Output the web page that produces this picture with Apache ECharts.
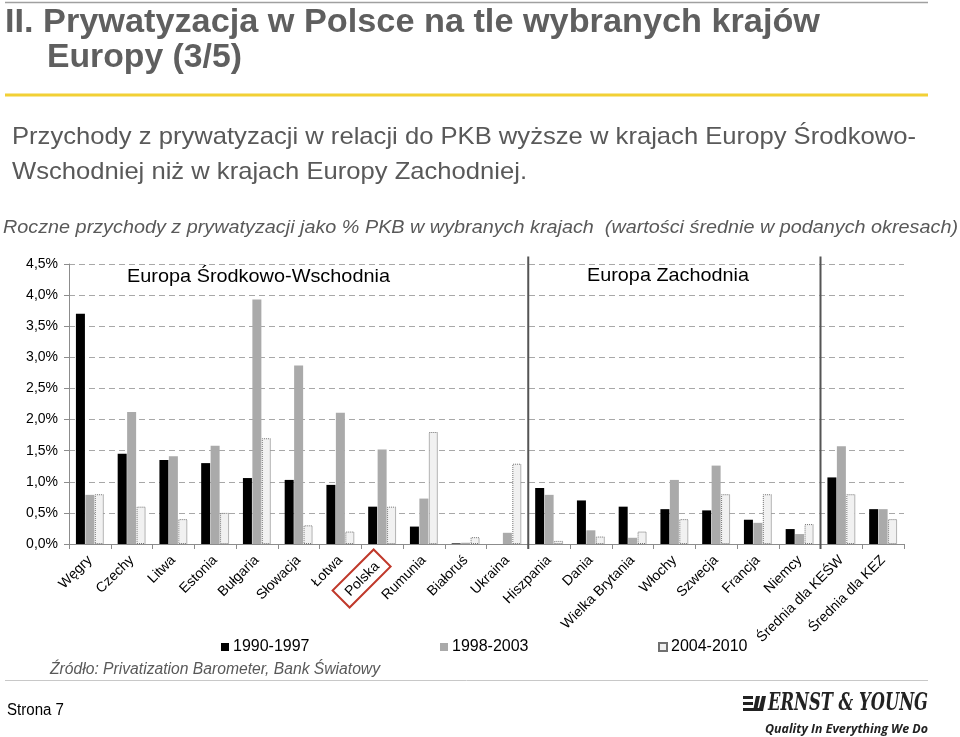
<!DOCTYPE html>
<html>
<head>
<meta charset="utf-8">
<script src="https://cdn.jsdelivr.net/npm/echarts@6/dist/echarts.min.js"></script>
<style>
html,body{margin:0;padding:0;background:#fff;}
#c{width:960px;height:737px;}
</style>
</head>
<body>
<div id="c"></div>
<script>
const categories = ['Węgry','Czechy','Litwa','Estonia','Bułgaria','Słowacja','Łotwa','Polska','Rumunia','Białoruś','Ukraina','Hiszpania','Dania','Wielka Brytania','Włochy','Szwecja','Francja','Niemcy','Średnia dla KEŚW','Średnia dla KEZ'];
const seriesNames = ['1990-1997','1998-2003','2004-2010'];
const s1990 = [3.70,1.45,1.35,1.30,1.06,1.03,0.95,0.60,0.28,0.01,0.00,0.90,0.70,0.60,0.56,0.54,0.39,0.24,1.07,0.56];
const s1998 = [0.79,2.12,1.41,1.58,3.93,2.87,2.11,1.52,0.73,0.02,0.18,0.79,0.22,0.10,1.03,1.26,0.34,0.16,1.57,0.56];
const s2004 = [0.80,0.60,0.40,0.50,1.70,0.30,0.20,0.60,1.80,0.11,1.29,0.05,0.12,0.20,0.40,0.80,0.80,0.32,0.80,0.40];
const groupBounds = [11, 18];
const highlighted = 'Polska';

const FF = '"Liberation Sans", Arial, sans-serif';
const cv = document.createElement('canvas').getContext('2d');
function fit(text, font, w){ cv.font = font; return w / cv.measureText(text).width; }
function txt(text, font, x, y, w, fill){
  return {type:'text', x:x, y:y, scaleX: fit(text, font, w), silent:true,
    style:{text:text, font:font, fill:fill, textVerticalAlign:'middle', textAlign:'left'}};
}

const chart = echarts.init(document.getElementById('c'), null, {renderer:'canvas'});
const fTitle = 'bold 33px ' + FF;
const fBody = '24px ' + FF;
const fCap = 'italic 19px ' + FF;
const fAnn = '19px ' + FF;
const fSrc = 'italic 16px ' + FF;
const fPage = '16px ' + FF;
const fLogo = 'italic bold 24px "DejaVu Serif", serif';
const fTag = 'italic bold 13px "Open Sans", sans-serif';

const graphics = [
  {type:'line', silent:true, shape:{x1:5,y1:2.5,x2:928,y2:2.5}, style:{stroke:'#a0a0a0', lineWidth:1.5}},
  txt('II. Prywatyzacja w Polsce na tle wybranych krajów', fTitle, 5, 23, 815, '#5f5f5f'),
  txt('Europy (3/5)', fTitle, 47, 58, 195, '#5f5f5f'),
  {type:'line', silent:true, shape:{x1:5,y1:95,x2:928,y2:95}, style:{stroke:'#f2d035', lineWidth:3}},
  txt('Przychody z prywatyzacji w relacji do PKB wyższe w krajach Europy Środkowo-', fBody, 12, 137, 904, '#595959'),
  txt('Wschodniej niż w krajach Europy Zachodniej.', fBody, 12, 172, 515, '#595959'),
  txt('Roczne przychody z prywatyzacji jako % PKB w wybranych krajach  (wartości średnie w podanych okresach)', fCap, 3, 228, 955, '#595959'),
  txt('Europa Środkowo-Wschodnia', fAnn, 127, 277, 263, '#000'),
  txt('Europa Zachodnia', fAnn, 587, 276, 162, '#000'),
  txt('Źródło: Privatization Barometer, Bank Światowy', fSrc, 50, 670, 330, '#595959'),
  {type:'line', silent:true, shape:{x1:5,y1:680.5,x2:928,y2:680.5}, style:{stroke:'#c8c8c8', lineWidth:1}},
  txt('Strona 7', fPage, 7, 711, 57, '#000'),
  {type:'rect', silent:true, shape:{x:743,y:696,width:10,height:3}, style:{fill:'#222'}},
  {type:'rect', silent:true, shape:{x:743,y:702,width:10,height:3}, style:{fill:'#222'}},
  {type:'rect', silent:true, shape:{x:743,y:708,width:10,height:3}, style:{fill:'#222'}},
  {type:'polygon', silent:true, shape:{points:[[756,696],[760,696],[757,711],[753,711]]}, style:{fill:'#222'}},
  {type:'polygon', silent:true, shape:{points:[[762,696],[766,696],[763,711],[751,711],[751,708],[759,708]]}, style:{fill:'#222'}},
  txt('ERNST & YOUNG', fLogo, 768, 704, 160, '#222'),
  txt('Quality In Everything We Do', fTag, 765, 729, 163, '#222')
];

const option = {
  animation:false,
  textStyle:{fontFamily:FF},
  grid:{left:69, right:56, top:264, bottom:193, containLabel:false},
  legend: seriesNames.map((n,i)=>({
    data:[n], left:[216,435,653][i], top:634, icon:'rect', itemWidth:8, itemHeight:8, itemGap:5,
    textStyle:{fontSize:16, color:'#000', fontFamily:FF, padding:[0,0,0,-1]}
  })),
  xAxis:[{
    type:'category', data:categories, boundaryGap:true,
    axisLine:{lineStyle:{color:'#8c8c8c', width:1}},
    axisTick:{show:true, length:5, lineStyle:{color:'#8c8c8c'}},
    axisLabel:{
      interval:0, rotate:45, fontSize:14, color:'#000', margin:14, fontFamily:FF,
      formatter:function(v){ return v === highlighted ? '{hl|' + v + '}' : v; },
      rich:{hl:{fontSize:14, color:'#000', fontFamily:FF, borderColor:'#c0392b', borderWidth:2, padding:[6,8,4,8]}}
    }
  },{
    type:'value', min:0, max:categories.length, show:false
  }],
  yAxis:{
    type:'value', min:0, max:4.5, interval:0.5,
    axisLine:{show:true, lineStyle:{color:'#8c8c8c'}},
    axisTick:{show:true, length:5, lineStyle:{color:'#8c8c8c'}},
    axisLabel:{fontSize:14, color:'#000', margin:11, fontFamily:FF,
      formatter:function(v){ return v.toFixed(1).replace('.', ',') + '%'; }},
    splitLine:{show:true, lineStyle:{color:'#a8a8a8', type:[6,4], width:1}}
  },
  series:[
    {name:seriesNames[0], type:'bar', data:s1990, barWidth:9, barGap:'5%',
      itemStyle:{color:'#000000'}},
    {name:seriesNames[1], type:'bar', data:s1998, barWidth:9, barGap:'5%',
      itemStyle:{color:'#aaaaaa'}},
    {name:seriesNames[2], type:'bar', data:s2004, barWidth:9, barGap:'5%',
      itemStyle:{color:'#f1f1f1', borderColor:'#707070', borderWidth:1, borderType:'dotted'}},
    {name:'sep', type:'custom', xAxisIndex:1, yAxisIndex:0, silent:true, clip:false,
      data: groupBounds.map(b=>[b]),
      encode:{x:0},
      renderItem:function(params, api){
        const top = api.coord([api.value(0), 4.62]);
        const bot = api.coord([api.value(0), -0.08]);
        return {type:'line', shape:{x1:top[0], y1:top[1], x2:bot[0], y2:bot[1]},
          style:{stroke:'#555555', lineWidth:2}};
      }}
  ],
  graphic: graphics
};
chart.setOption(option);
</script>
</body>
</html>
